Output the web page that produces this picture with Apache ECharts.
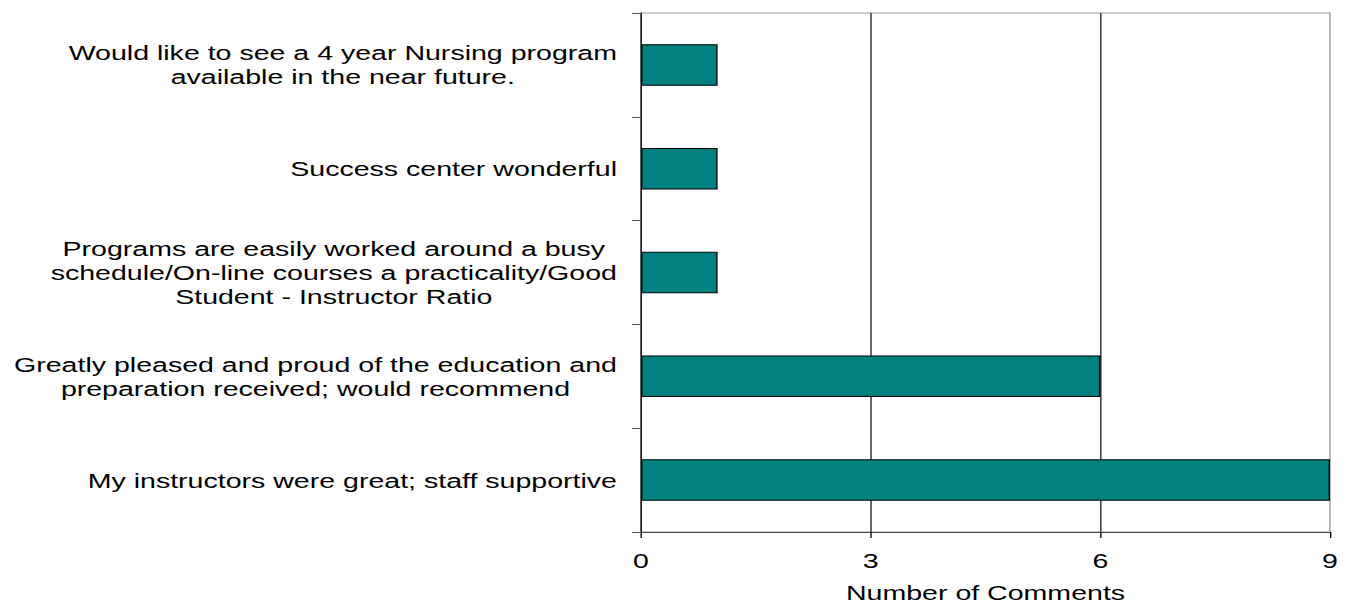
<!DOCTYPE html>
<html>
<head>
<meta charset="utf-8">
<script src="https://cdn.jsdelivr.net/npm/echarts@6/dist/echarts.min.js"></script>
<style>
    html, body { margin: 0; padding: 0; background: #fff; overflow: hidden; }
    /* the source picture is stretched sideways, so the chart is drawn narrow and scaled out */
    #chart { width: 992px; height: 608px; transform: scaleX(1.3599); transform-origin: 0 0; }
</style>
</head>
<body>
<div id="chart"></div>
<script>
// categories top to bottom
var categories = [
    'Would like to see a 4 year Nursing program\navailable in the near future.',
    'Success center wonderful',
    'Programs are easily worked around a busy\nschedule/On-line courses a practicality/Good\nStudent - Instructor Ratio',
    'Greatly pleased and proud of the education and\npreparation received; would recommend',
    'My instructors were great; staff supportive'
]
var comments = [1, 1, 1, 6, 9]
var xTicks = [0, 3, 6, 9]

var font = '"Liberation Sans", Arial, sans-serif'
var chart = echarts.init(document.getElementById('chart'), null, { renderer: 'svg', width: 992, height: 608 })
chart.setOption({
    animation: false,
    grid: {
        left: 471.4,
        right: 14,
        top: 13,
        bottom: 76,
        show: true,
        borderColor: '#999',
        borderWidth: 1
    },
    xAxis: {
        type: 'value',
        min: xTicks[0],
        max: xTicks[xTicks.length - 1],
        interval: 3,
        name: 'Number of Comments',
        nameLocation: 'middle',
        nameGap: 50,
        nameTextStyle: { color: '#000', fontSize: 21, fontFamily: font },
        axisLine: { show: true, lineStyle: { color: '#444', width: 1 } },
        axisTick: { show: true, length: 6, lineStyle: { color: '#000' } },
        axisLabel: { color: '#000', fontSize: 21, fontFamily: font, margin: 18 },
        splitLine: { show: true, showMinLine: false, showMaxLine: false, lineStyle: { color: '#222', width: 1 } }
    },
    yAxis: {
        type: 'category',
        inverse: true,
        data: categories,
        axisLine: { show: true, lineStyle: { color: '#000', width: 1 } },
        axisTick: { show: true, length: 6.6, lineStyle: { color: '#555' } },
        axisLabel: {
            margin: 17.6,
            align: 'right',
            formatter: function (v) {
                // each line centred inside the label block
                return v.split('\n').map(function (l) { return '{c|' + l + '}' }).join('\n')
            },
            rich: {
                c: { align: 'center', color: '#000', fontSize: 21, fontFamily: font, lineHeight: 24 }
            }
        }
    },
    series: [{
        type: 'bar',
        data: comments,
        barCategoryGap: '60%',
        itemStyle: { color: '#008080', borderColor: '#000', borderWidth: 1 }
    }]
})
</script>
</body>
</html>
